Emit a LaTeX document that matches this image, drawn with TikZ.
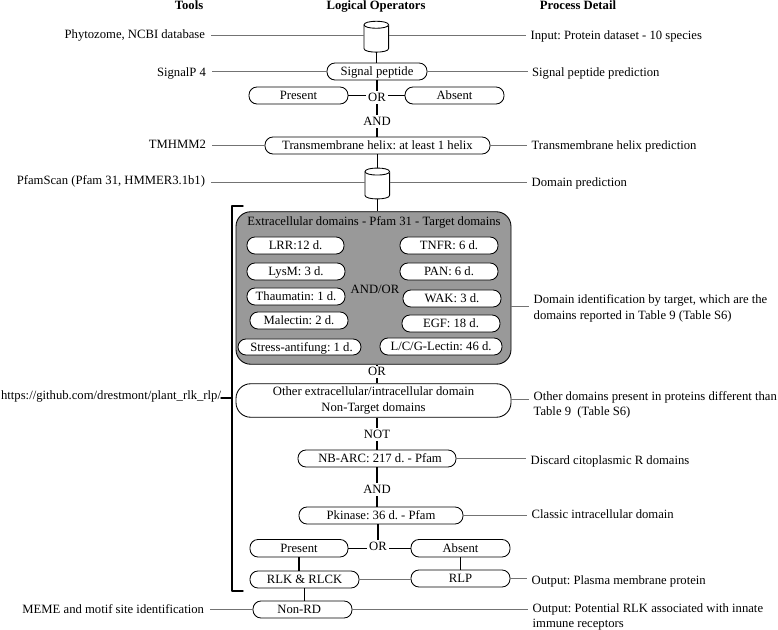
\documentclass[tikz,border=0pt]{standalone}
\usepackage{fontspec}
\setmainfont{Liberation Serif}
\tikzset{
  x=0.75pt,y=-0.75pt,
  pillbox/.style={draw=black,fill=white,line width=0.65pt,rounded corners=6pt,inner sep=0pt,align=center},
  onelinetext/.style={text height=6.5pt,text depth=0pt},
  opnode/.style={inner sep=1.5pt,onelinetext},
  tooltext/.style={anchor=east,inner sep=0pt,outer sep=4.5pt,onelinetext},
  detailtext/.style={anchor=west,inner sep=0pt,outer sep=3.5pt,onelinetext},
  detailblock/.style={anchor=west,inner sep=0pt,outer sep=3.5pt,align=left},
  headtext/.style={inner sep=0pt,onelinetext,font=\fontsize{9.5pt}{11pt}\selectfont\bfseries},
  dbbody/.style={draw=black,fill=white,line width=0.65pt,line join=round},
  dbanchor/.style={inner sep=0pt,minimum width=18pt,minimum height=22.9pt},
  conn/.style={draw=black,line width=1.05pt},
  guide/.style={draw=black!55,line width=0.55pt},
  bracketline/.style={draw=black,line width=1.05pt,line cap=round,line join=round},
}
\newcommand{\pill}[6]{%
  \node[pillbox,onelinetext,minimum width={(#4-#2)*0.75pt},minimum height={(#5-#3)*0.75pt}] (#1) at ({(#2+#4)/2},{(#3+#5)/2}) {#6};}
\newcommand{\dbcyl}[3]{%
  \node[dbanchor] (#1) at (#2,#3) {};
  \draw[dbbody] ([yshift=-2.7pt]#1.north west) -- ([yshift=2.7pt]#1.south west)
     .. controls +(0,4.67) and +(0,4.67) .. ([yshift=2.7pt]#1.south east)
     -- ([yshift=-2.7pt]#1.north east)
     .. controls +(0,-4.67) and +(0,-4.67) .. ([yshift=-2.7pt]#1.north west) -- cycle;
  \draw[dbbody] ([yshift=-2.7pt]#1.north west)
     .. controls +(0,4.67) and +(0,4.67) .. ([yshift=-2.7pt]#1.north east);}
\begin{document}
\begin{tikzpicture}[font=\fontsize{9.5pt}{11.6pt}\selectfont]
\frenchspacing
\useasboundingbox (0,0) rectangle (778,630);

% headers
\node[headtext] (hTools) at (189,5) {Tools};
\node[headtext] (hLogic) at (376,5) {Logical Operators};
\node[headtext] (hProc) at (578,5) {Process Detail};

% grey panel
\node[pillbox,fill=black!40,rounded corners=11pt,minimum width={275*0.75pt},minimum height={152.5*0.75pt}] (panel) at (373.5,288) {};
\node[inner sep=0pt] (panelTitle) at (374,222.5) {Extracellular domains - Pfam 31 - Target domains};

% cylinders
\dbcyl{db1}{376.3}{36.7}
\dbcyl{db2}{377.3}{183.5}

% main boxes
\pill{signal}{327}{63}{427}{80}{Signal peptide}
\pill{present1}{249}{87}{348}{104}{Present}
\pill{absent1}{405}{87}{504}{104}{Absent}
\pill{tm}{265}{137}{490}{154}{Transmembrane helix: at least 1 helix}

\pill{lrr}{247}{237}{344}{254}{LRR:12 d.}
\pill{lysm}{247}{263}{345}{280}{LysM: 3 d.}
\pill{thau}{247}{288}{345}{305}{Thaumatin: 1 d.}
\pill{male}{250}{312}{348}{329}{Malectin: 2 d.}
\pill{stress}{238}{339}{361}{355}{\hspace*{3pt}Stress-antifung: 1 d.}
\pill{tnfr}{400}{237}{498}{254}{TNFR: 6 d.}
\pill{pan}{400}{263}{498}{280}{PAN: 6 d.}
\pill{wak}{403}{290}{501}{307}{WAK: 3 d.}
\pill{egf}{402}{315}{500}{332}{EGF: 18 d.}
\pill{lectin}{380}{338}{502}{355}{L/C/G-Lectin: 46 d.}
\node[inner sep=0pt] (andor) at (375,289) {AND/OR};

\node[pillbox,rounded corners=11pt,minimum width={275*0.75pt},minimum height={33.5*0.75pt}] (other) at (373.5,400.5) {Other extracellular/intracellular domain\\Non-Target domains};

\pill{nbarc}{298}{450}{456}{467}{\hspace*{4.5pt}NB-ARC: 217 d. - Pfam}
\pill{pkin}{299}{507}{463}{524}{Pkinase: 36 d. - Pfam}
\pill{present2}{250}{539.5}{348}{557}{Present}
\pill{absent2}{411}{539.5}{510}{557}{Absent}
\pill{rlk}{250}{571}{359}{588}{RLK \& RLCK}
\pill{rlp}{411}{570}{510}{587}{RLP}
\pill{nonrd}{253}{601}{352}{618}{Non-RD\hspace*{5pt}}

% operators
\node[opnode] (or1) at (377,97.5) {OR};
\node[opnode] (and1) at (377,121.5) {AND};
\node[opnode] (or2) at (377,371.5) {OR};
\node[opnode] (not1) at (377,434.5) {NOT};
\node[opnode] (and2) at (377,489.5) {AND};
\node[opnode] (or3) at (378,546.5) {OR};

% left texts
\node[tooltext] (t1) at (211,34) {Phytozome, NCBI database};
\node[tooltext] (t2) at (212,72) {SignalP 4};
\node[tooltext] (t3) at (212,144.5) {TMHMM2};
\node[tooltext] (t4) at (211,180.5) {PfamScan (Pfam 31, HMMER3.1b1)};
\node[tooltext,outer sep=0pt] (t5) at (221,395.5) {https://github.com/drestmont/plant\_rlk\_rlp/};
\node[tooltext] (t6) at (210,609) {MEME and motif site identification};

% right texts
\node[detailtext] (d1) at (526,35) {Input: Protein dataset - 10 species};
\node[detailtext] (d2) at (527.5,72) {Signal peptide prediction};
\node[detailtext] (d3) at (527,145) {Transmembrane helix prediction};
\node[detailtext] (d4) at (527,182) {Domain prediction};
\node[detailblock] (d5) at (529,308.5) {Domain identification by target, which are the\\domains reported in Table 9 (Table S6)};
\node[detailblock] (d6) at (529,405) {Other domains present in proteins different than\\Table 9\ \ (Table S6)};
\node[detailtext] (d7) at (526,460) {Discard citoplasmic R domains};
\node[detailtext] (d8) at (527,514.5) {Classic intracellular domain};
\node[detailtext] (d9) at (527,580.5) {Output: Plasma membrane protein};
\node[detailblock] (d10) at (528,617) {Output: Potential RLK associated with innate\\immune receptors};

% levels of guide lines that do not meet a text at its middle
\coordinate (g5) at (520,306);
\coordinate (g6) at (520,399);

% guide lines
\draw[guide] ([yshift=1pt]db1.west -| t1.east) -- ([yshift=1pt]db1.west);
\draw[guide] ([yshift=1pt]db1.east) -- ([yshift=1pt]db1.east -| d1.west);
\draw[guide] (signal.west -| t2.east) -- (signal.west);
\draw[guide] (signal.east) -- (signal.east -| d2.west);
\draw[guide] (tm.west -| t3.east) -- (tm.west);
\draw[guide] (tm.east) -- (tm.east -| d3.west);
\draw[guide] ([yshift=1pt]db2.west -| t4.east) -- ([yshift=1pt]db2.west);
\draw[guide] ([yshift=1pt]db2.east) -- ([yshift=1pt]db2.east -| d4.west);
\draw[guide] (panel.east |- g5) -- (d5.west |- g5);
\draw[guide] (other.east |- g6) -- (d6.west |- g6);
\draw[guide] (nbarc.east) -- (nbarc.east -| d7.west);
\draw[guide] (pkin.east) -- (pkin.east -| d8.west);
\draw[guide] (rlk.east) -- (rlp.west |- rlk.east);
\draw[guide] (rlp.east) -- (rlp.east -| d9.west);
\draw[guide] (nonrd.west -| t6.east) -- (nonrd.west);
\draw[guide] (nonrd.east) -- (nonrd.east -| d10.west);

% connectors
\draw[conn] (db1.south) -- (signal.north -| db1.south);
\draw[conn] (signal.south -| or1.north) -- (or1.north);
\draw[conn] (present1.east) -- (or1.west |- present1.east);
\draw[conn] (absent1.west) -- (or1.east |- absent1.west);
\draw[conn] (or1.south) -- (and1.north);
\draw[conn] (and1.south) -- (tm.north -| and1.south);
\draw[conn] (tm.south -| db2.north) -- (db2.north);
\draw[conn] (db2.south) -- (panel.north -| db2.south);
\draw[conn] (panel.south -| or2.north) -- (or2.north);
\draw[conn] (or2.south) -- (other.north -| or2.south);
\draw[conn] (other.south -| not1.north) -- (not1.north);
\draw[conn] (not1.south) -- (nbarc.north -| not1.south);
\draw[conn] (nbarc.south -| and2.north) -- (and2.north);
\draw[conn] (and2.south) -- (pkin.north -| and2.south);
\draw[conn] (pkin.south -| or3.north) -- (or3.north);
\draw[conn] (present2.east) -- (or3.west |- present2.east);
\draw[conn] (absent2.west) -- (or3.east |- absent2.west);
\draw[conn] (present2.south) -- (rlk.north -| present2.south);
\draw[conn] (absent2.south) -- (rlp.north -| absent2.south);
\draw[conn] (rlk.south) -- (nonrd.north -| rlk.south);

% bracket
\coordinate (brTop) at (243,206);
\coordinate (brTopC) at (232,206);
\coordinate (brBot) at (243,591);
\coordinate (brBotC) at (232,591);
\coordinate (brMid) at (232,398);
\draw[bracketline] (brTop) -- (brTopC) -- (brBotC) -- (brBot);
\draw[bracketline] (brMid) -- (t5.east |- brMid);
\end{tikzpicture}
\end{document}
